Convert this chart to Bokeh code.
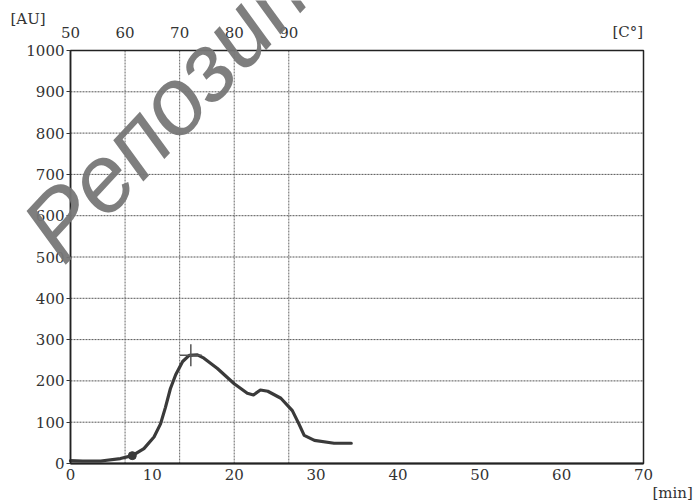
from bokeh.plotting import figure
from bokeh.models import Range1d, LinearAxis, FixedTicker, Label
from bokeh.embed import file_html
from bokeh.resources import INLINE
import math

# ---- data ----
time_min = [0.0, 1.5, 3.7, 6.1, 7.55, 8.97, 10.2, 11.0, 11.6, 12.2, 12.85, 13.7, 14.5,
            15.5, 16.3, 17.95, 20.0, 21.6, 22.35, 23.2, 24.1, 25.7, 27.1, 27.9, 28.55,
            29.8, 32.2, 34.3]
viscosity_au = [7, 6, 6, 12, 19, 36, 64, 96, 136, 181, 215, 247, 262,
                263, 255, 230, 193, 170, 166, 178, 175, 158, 128, 96, 68,
                56, 49, 49]
start_point = (7.55, 19)
peak_point = (14.7, 262)
x_ticks = [0, 10, 20, 30, 40, 50, 60, 70]
y_ticks = [0, 100, 200, 300, 400, 500, 600, 700, 800, 900, 1000]
temp_ticks = [50, 60, 70, 80, 90]
temp_start, temp_rate = 50, 1.5  # degrees C at t=0, C per minute
temp_grid = [60, 70, 80, 90]
x_max, y_max = 70, 1000

# ---- layout (pixels) ----
W, H = 699, 501
PL, PR, PT, PB = 70, 643, 50, 463          # plot box edges on the canvas
sx = (PR - PL) / x_max
sy = (PB - PT) / y_max
x0, x1 = -PL / sx, x_max + (W - PR) / sx
y0, y1 = -(H - PB) / sy, y_max + PT / sy

def cx(px):
    return x0 + px / sx

def cy(py):
    return y1 - py / sy

FONT = "DejaVu Serif"
TXT = "#333333"
DARK = "#3a3a3a"

p = figure(width=W, height=H, output_backend="svg", toolbar_location=None,
           x_range=Range1d(x0, x1), y_range=Range1d(y0, y1),
           x_axis_type=None, y_axis_type=None, min_border=0)
p.background_fill_color = "white"
p.border_fill_color = "white"
p.outline_line_color = None
p.xgrid.visible = False
p.ygrid.visible = False

p.extra_x_ranges = {"temp": Range1d(temp_start + temp_rate * x0, temp_start + temp_rate * x1)}

bottom = LinearAxis(fixed_location=0, bounds=(0, x_max), ticker=FixedTicker(ticks=x_ticks))
left = LinearAxis(fixed_location=0, bounds=(0, y_max), ticker=FixedTicker(ticks=y_ticks))
top = LinearAxis(x_range_name="temp", fixed_location=y_max,
                 ticker=FixedTicker(ticks=temp_ticks))

for ax in [bottom, left, top]:
    ax.major_label_text_font = FONT
    ax.major_label_text_font_size = "15px"
    ax.major_label_text_color = TXT
    ax.minor_tick_line_color = None
    ax.major_tick_in = 0

bottom.major_tick_out = 0
bottom.major_label_standoff = 5
bottom.axis_line_width = 2
bottom.axis_line_color = "#222222"

left.major_tick_out = 4
left.major_label_standoff = 2
left.axis_line_width = 1.5
left.axis_line_color = "#222222"
left.major_tick_line_color = "#333333"

top.major_tick_out = 0
top.axis_line_color = None
top.major_tick_line_color = None
top.major_label_standoff = 13

p.add_layout(bottom, "below")
p.add_layout(left, "left")
p.add_layout(top, "above")

# dotted grid lines inside the plot box
hy = y_ticks[1:-1]
p.segment(x0=[0] * len(hy), y0=hy, x1=[x_max] * len(hy), y1=hy,
          line_color="#555555", line_dash="2 1", line_width=1)
vx = [(t - temp_start) / temp_rate for t in temp_grid]
p.segment(x0=vx, y0=[0] * len(vx), x1=vx, y1=[y_max] * len(vx),
          line_color="#666666", line_dash="2 1", line_width=1)

# box border
p.quad(left=[0], right=[x_max], bottom=[0], top=[y_max], fill_color=None,
       line_color="#222222", line_width=1.5)

# curve
p.line(time_min, viscosity_au, line_color=DARK, line_width=3.2, line_join="round", line_cap="round")
p.scatter([start_point[0]], [start_point[1]], marker="circle", size=8, fill_color=DARK, line_color=DARK)
p.scatter([peak_point[0]], [peak_point[1]], marker="cross", size=22, line_color="#555555", line_width=1.5)

# unit labels
def unit_label(px, py, text):
    p.add_layout(Label(x=cx(px), y=cy(py), text=text, text_font=FONT, text_font_size="15px",
                       text_color=TXT, text_baseline="middle", text_align="left"))

unit_label(10, 18, "[AU]")
unit_label(612, 31, "[C°]")
unit_label(652, 492, "[min]")

# watermark
p.add_layout(Label(x=cx(39), y=cy(244), text="Репозиторий", text_font="Liberation Sans",
                   text_font_style="italic", text_font_size="95px", text_color="#777777",
                   text_alpha=0.95, angle=47 * math.pi / 180, text_baseline="alphabetic",
                   text_align="left"))

open("out.html", "w").write(file_html(p, INLINE))
